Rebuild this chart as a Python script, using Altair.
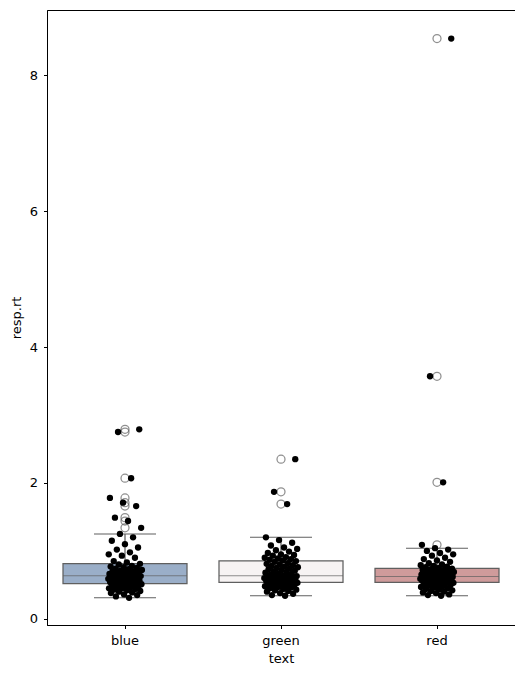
import altair as alt
import pandas as pd

categories = ["blue", "green", "red"]

blue_rt = [0.31, 0.33, 0.35, 0.36, 0.38, 0.39, 0.40, 0.41, 0.42, 0.43, 0.44, 0.45, 0.45, 0.46, 0.47,
           0.48, 0.48, 0.49, 0.50, 0.50, 0.51,
           0.52, 0.52, 0.53, 0.54, 0.54, 0.55, 0.55, 0.56, 0.57, 0.57, 0.58, 0.58, 0.59, 0.59, 0.60,
           0.60, 0.61, 0.61, 0.62, 0.62, 0.63,
           0.64, 0.64, 0.65, 0.66, 0.66, 0.67, 0.68, 0.68, 0.69, 0.70, 0.70, 0.71, 0.72, 0.73, 0.74,
           0.75, 0.76, 0.77, 0.78, 0.80, 0.81,
           0.83, 0.85, 0.90, 0.93, 0.95, 0.98, 1.02, 1.05, 1.10, 1.15, 1.20, 1.25,
           1.34, 1.44, 1.49, 1.66, 1.71, 1.78, 2.07, 2.75, 2.79]

green_rt = [0.34, 0.35, 0.37, 0.38, 0.40, 0.41, 0.42, 0.43, 0.44, 0.45, 0.46, 0.47, 0.48, 0.48, 0.49,
            0.50, 0.50, 0.51, 0.52, 0.52, 0.53,
            0.54, 0.54, 0.55, 0.55, 0.56, 0.56, 0.57, 0.57, 0.58, 0.58, 0.59, 0.59, 0.60, 0.60, 0.61,
            0.61, 0.62, 0.62, 0.62, 0.63, 0.63,
            0.64, 0.65, 0.66, 0.67, 0.68, 0.69, 0.70, 0.71, 0.72, 0.73, 0.74, 0.75, 0.76, 0.77, 0.78,
            0.79, 0.80, 0.81, 0.82, 0.84, 0.85,
            0.86, 0.87, 0.88, 0.89, 0.90, 0.91, 0.93, 0.94, 0.95, 0.97, 0.99, 1.01, 1.03, 1.05, 1.08,
            1.12, 1.16, 1.20,
            1.69, 1.87, 2.35]

red_rt = [0.34, 0.35, 0.36, 0.38, 0.39, 0.40, 0.41, 0.42, 0.43, 0.44, 0.45, 0.46, 0.47, 0.48, 0.49,
          0.49, 0.50, 0.51, 0.52, 0.52, 0.53,
          0.54, 0.54, 0.55, 0.55, 0.56, 0.56, 0.57, 0.57, 0.58, 0.58, 0.59, 0.59, 0.59, 0.60, 0.60,
          0.61, 0.61, 0.61, 0.62, 0.62, 0.62,
          0.63, 0.63, 0.64, 0.64, 0.65, 0.65, 0.66, 0.66, 0.67, 0.67, 0.68, 0.68, 0.69, 0.69, 0.70,
          0.70, 0.71, 0.72, 0.72, 0.73, 0.74,
          0.75, 0.76, 0.77, 0.78, 0.79, 0.80, 0.82, 0.84, 0.86, 0.88, 0.90, 0.93, 0.95, 0.97, 1.00,
          1.02, 1.04,
          1.09, 2.01, 3.57, 8.54]

box_colors = ["#9aaec8", "#f7f3f3", "#cf9b9b"]
y_ticks = [0, 2, 4, 6, 8]

rows = []
for cat, vals in zip(categories, [blue_rt, green_rt, red_rt]):
    for v in vals:
        rows.append({"text": cat, "resp.rt": v})
df = pd.DataFrame(rows)

GRAY = "#5f5f5f"
FONT = "DejaVu Sans"

x_enc = alt.X("text:N", title="text", sort=categories,
              scale=alt.Scale(paddingInner=0, paddingOuter=0),
              axis=alt.Axis(labelAngle=0, tickSize=3.5, tickColor="black", domainColor="black",
                            labelColor="black", titleColor="black", labelPadding=6, titlePadding=5))
y_enc = alt.Y("resp\\.rt:Q", title="resp.rt",
              scale=alt.Scale(domain=[-0.09, 8.96], nice=False, zero=False),
              axis=alt.Axis(values=y_ticks, format="d", grid=False, tickSize=3.5, tickColor="black",
                            domainColor="black", labelColor="black", titleColor="black",
                            labelPadding=6, titlePadding=6))

box = alt.Chart(df).mark_boxplot(
    extent=1.5,
    size=124,
    box={"stroke": GRAY, "strokeWidth": 1.25},
    median={"color": GRAY, "strokeWidth": 1.25},
    rule={"color": GRAY, "strokeWidth": 1.25},
    ticks={"color": GRAY, "size": 62, "strokeWidth": 1.25},
    outliers={"filled": False, "stroke": GRAY, "fill": None, "size": 64, "strokeWidth": 1.25},
).encode(
    x=x_enc,
    y=y_enc,
    color=alt.Color("text:N", scale=alt.Scale(domain=categories, range=box_colors), legend=None),
)

strip = alt.Chart(df).transform_window(
    rn="row_number()", groupby=["text"]
).transform_calculate(
    jitter="((datum.rn * 0.618034) % 1 - 0.5) * 0.22"
).mark_circle(color="black", opacity=1, size=40).encode(
    x=x_enc,
    y=y_enc,
    xOffset=alt.XOffset("jitter:Q", scale=alt.Scale(domain=[-0.5, 0.5])),
)

chart = alt.layer(box, strip).properties(
    width=468, height=615,
    padding={"left": 2, "top": 2, "right": 0, "bottom": 2},
).configure_view(
    stroke="black", strokeWidth=1
).configure_axis(
    labelFont=FONT, titleFont=FONT, labelFontSize=13, titleFontSize=13, titleFontWeight="normal"
)

chart.save("out.html", embed_options={"renderer": "svg", "actions": False})
